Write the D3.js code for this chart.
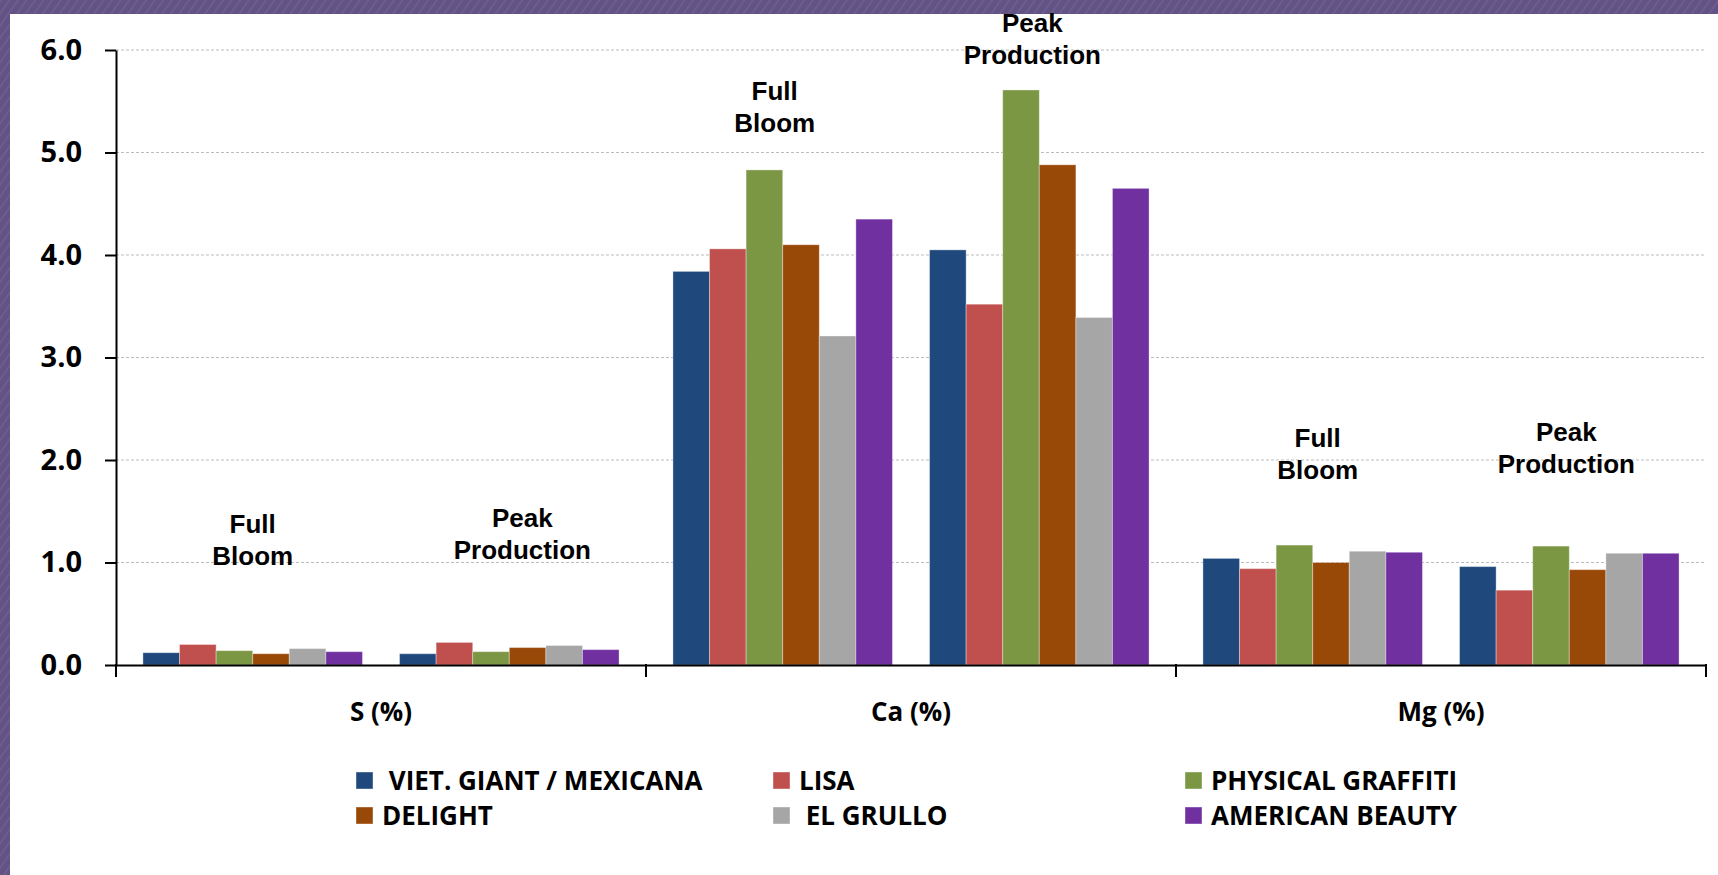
<!DOCTYPE html>
<html>
<head>
<meta charset="utf-8">
<script src="https://cdn.jsdelivr.net/npm/d3@7"></script>
<style>
  html, body { margin: 0; padding: 0; background: #ffffff; }
  svg { display: block; }
  text { fill: #000; }
</style>
</head>
<body>
<svg id="chart" width="1718" height="875"></svg>
<script>
// Nutrient categories on the x axis
const nutrients = ["S (%)", "Ca (%)", "Mg (%)"];
// Sampling stages, one cluster of bars each inside every nutrient
const stages = ["Full Bloom", "Peak Production"];
const stageLines = [["Full", "Bloom"], ["Peak", "Production"]];
// Varieties (series)
const varieties = ["VIET. GIANT / MEXICANA", "LISA", "PHYSICAL GRAFFITI", "DELIGHT", "EL GRULLO", "AMERICAN BEAUTY"];
const varietyColors = ["#1f497d", "#c0504d", "#7b9743", "#984807", "#a6a6a6", "#7030a0"];

// Concentrations per variety, ordered [S-FB, S-PP, Ca-FB, Ca-PP, Mg-FB, Mg-PP]
const vietGiant      = [0.12, 0.11, 3.84, 4.05, 1.04, 0.96];
const lisa           = [0.20, 0.22, 4.06, 3.52, 0.94, 0.73];
const physGraffiti   = [0.14, 0.13, 4.83, 5.61, 1.17, 1.16];
const delight        = [0.11, 0.17, 4.10, 4.88, 1.00, 0.93];
const elGrullo       = [0.16, 0.19, 3.21, 3.39, 1.11, 1.09];
const americanBeauty = [0.13, 0.15, 4.35, 4.65, 1.10, 1.09];
const seriesValues = [vietGiant, lisa, physGraffiti, delight, elGrullo, americanBeauty];

// Y axis ticks
const yTicks = [0, 1, 2, 3, 4, 5, 6];

// Height (in axis units) of the lower line of each stage caption, same order as the values
const captionLevel = [0.976, 1.034, 5.20, 5.868, 1.815, 1.873];
const captionShift = [0, 13, -8, -7, 5, -3];

const svg = d3.select("#chart");
const W = 1718, H = 875;

// Purple slide frame with fine diagonal texture
const defs = svg.append("defs");
const pat = defs.append("pattern")
  .attr("id", "frameTex").attr("patternUnits", "userSpaceOnUse")
  .attr("width", 7).attr("height", 7)
  .attr("patternTransform", "rotate(35)");
pat.append("rect").attr("width", 7).attr("height", 7).attr("fill", "#635385");
pat.append("rect").attr("width", 1.6).attr("height", 7).attr("fill", "#6e5f91");

svg.append("rect").attr("x", 0).attr("y", 0).attr("width", W).attr("height", H).attr("fill", "url(#frameTex)");
svg.append("rect").attr("x", 10).attr("y", 14).attr("width", W - 10).attr("height", H - 14).attr("fill", "#ffffff");

const plot = { left: 116, right: 1706, top: 50, bottom: 665 };

const x0 = d3.scaleBand().domain(nutrients).range([plot.left, plot.right]).padding(0);
const xStage = d3.scaleBand().domain(stages).range([0, x0.bandwidth()])
  .paddingInner(0.1445).paddingOuter(0.105);
const xVar = d3.scaleBand().domain(varieties).range([0, xStage.bandwidth()]).padding(0);
const y = d3.scaleLinear().domain([0, 6]).range([plot.bottom, plot.top]);
const color = d3.scaleOrdinal().domain(varieties).range(varietyColors);

// Horizontal gridlines
svg.append("g").selectAll("line")
  .data(yTicks.filter(d => d > 0))
  .join("line")
  .attr("x1", plot.left).attr("x2", plot.right)
  .attr("y1", d => y(d)).attr("y2", d => y(d))
  .attr("stroke", "#bdbdbd").attr("stroke-width", 1)
  .attr("stroke-dasharray", "3,2");

// Flatten values into bar records
const bars = [];
nutrients.forEach((n, ni) => {
  stages.forEach((s, si) => {
    varieties.forEach((v, vi) => {
      bars.push({ nutrient: n, stage: s, variety: v, value: seriesValues[vi][ni * 2 + si] });
    });
  });
});

svg.append("g").selectAll("rect")
  .data(bars)
  .join("rect")
  .attr("x", d => x0(d.nutrient) + xStage(d.stage) + xVar(d.variety))
  .attr("width", xVar.bandwidth())
  .attr("y", d => y(d.value))
  .attr("height", d => y(0) - y(d.value))
  .attr("fill", d => color(d.variety))
  .attr("stroke", "#ffffff").attr("stroke-opacity", 0.35).attr("stroke-width", 1);

// Stage captions above every cluster
const captions = [];
nutrients.forEach((n, ni) => {
  stages.forEach((s, si) => {
    captions.push({ nutrient: n, stage: s, lines: stageLines[si], idx: ni * 2 + si });
  });
});
const capG = svg.append("g")
  .attr("font-family", "'Liberation Sans', Arial, sans-serif")
  .attr("font-weight", "bold").attr("font-size", 26)
  .attr("text-anchor", "middle");
captions.forEach(c => {
  const cx = x0(c.nutrient) + xStage(c.stage) + xStage.bandwidth() / 2 + captionShift[c.idx];
  const base = y(captionLevel[c.idx]);
  capG.append("text").attr("x", cx).attr("y", base - 32).text(c.lines[0]);
  capG.append("text").attr("x", cx).attr("y", base).text(c.lines[1]);
});

// Y axis
const yAxis = d3.axisLeft(y).tickValues(yTicks).tickFormat(d3.format(".1f"))
  .tickSize(11).tickSizeOuter(0).tickPadding(23);
const yG = svg.append("g").attr("transform", `translate(${plot.left},0)`).call(yAxis);
yG.select(".domain").attr("stroke", "#000").attr("stroke-width", 2);
yG.selectAll(".tick line").attr("stroke", "#000").attr("stroke-width", 2);
yG.selectAll(".tick text")
  .attr("font-family", "'Open Sans', sans-serif").attr("font-weight", "bold")
  .attr("font-size", 29).attr("fill", "#000");

// X axis: baseline, boundary ticks between nutrient groups, centred labels
const xAxis = d3.axisBottom(x0).tickSize(0).tickPadding(38);
const xG = svg.append("g").attr("transform", `translate(0,${plot.bottom})`).call(xAxis);
xG.select(".domain").attr("stroke", "#000").attr("stroke-width", 2);
xG.selectAll(".tick text")
  .attr("font-family", "'Open Sans', sans-serif").attr("font-weight", "bold")
  .attr("font-size", 26).attr("fill", "#000");
const bounds = nutrients.map(n => x0(n)).concat([x0(nutrients[nutrients.length - 1]) + x0.bandwidth()]);
xG.selectAll("line.bound").data(bounds).join("line")
  .attr("class", "bound")
  .attr("x1", d => d).attr("x2", d => d)
  .attr("y1", -1).attr("y2", 12)
  .attr("stroke", "#000").attr("stroke-width", 2);

// Legend: three columns, two rows
const legendCols = [356, 773, 1185];
const legendRows = [772, 807];
const legendLabels = [" VIET. GIANT / MEXICANA", "LISA", "PHYSICAL GRAFFITI", "DELIGHT", " EL GRULLO", "AMERICAN BEAUTY"];
const lg = svg.append("g");
varieties.forEach((v, i) => {
  const cx = legendCols[i % 3], cy = legendRows[Math.floor(i / 3)];
  lg.append("rect").attr("x", cx).attr("y", cy).attr("width", 17).attr("height", 17)
    .attr("fill", color(v)).attr("stroke", "#ffffff").attr("stroke-opacity", 0.4);
  lg.append("text").attr("x", cx + 26).attr("y", cy + 18)
    .attr("font-family", "'Open Sans', sans-serif").attr("font-weight", "bold")
    .attr("font-size", 26).style("white-space", "pre")
    .text(legendLabels[i]);
});
</script>
</body>
</html>
